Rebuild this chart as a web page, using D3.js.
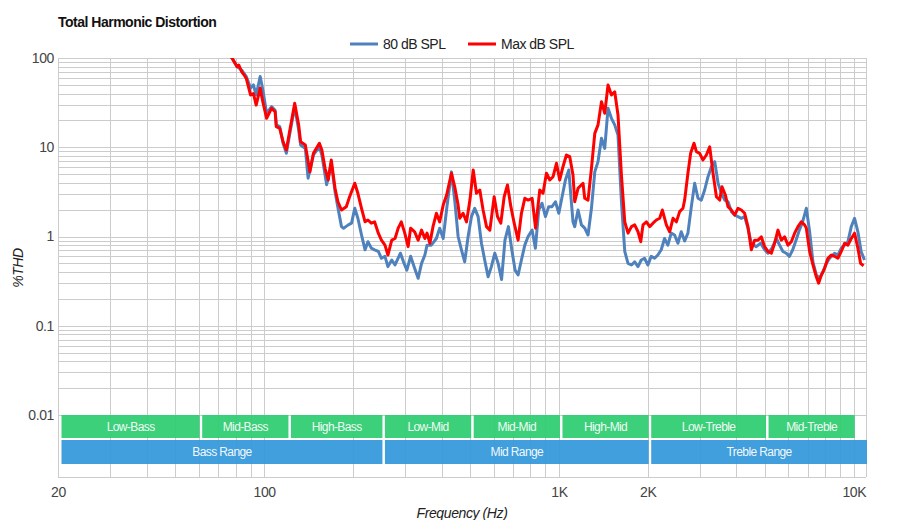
<!DOCTYPE html>
<html>
<head>
<meta charset="utf-8">
<script src="https://cdn.jsdelivr.net/npm/d3@7"></script>
<style>
	body { margin: 0; background: #fff; }
	svg { font-family: "Liberation Sans", Arial, sans-serif; }
</style>
</head>
<body>
<svg id="chart" width="900" height="520"></svg>
<script>
var seriesNames = ["80 dB SPL", "Max dB SPL"];

// [frequency Hz, %THD]
var spl80 = [[76,110],[78,99],[81,80],[84,73],[87,62],[90,46],[92,50],[94,38.5],[97,62],[99,44],[102,24],[106,28.5],[109,26],[110,17.8],[113,17],[116,11.1],[119,8.55],[122,13.7],[127,28.5],[131,15.6],[133,10.6],[138,9.7],[141,4.5],[147,8.2],[154,10.1],[157,8.2],[163,3.8],[169,6.6],[174,3.2],[178,2.1],[183,1.29],[186,1.24],[193,1.35],[198,1.41],[203,2.07],[208,1.6],[214,1.04],[220,0.71],[225,0.875],[231,0.74],[237,0.71],[244,0.68],[250,0.57],[257,0.6],[263,0.46],[271,0.545],[278,0.48],[290,0.65],[297,0.52],[305,0.42],[314,0.6],[324,0.44],[333,0.34],[342,0.5],[351,0.62],[357,0.8],[369,0.8],[384,0.95],[394,1.24],[405,0.95],[417,2.16],[432,5.3],[444,2.4],[455,1.0],[467,0.71],[479,0.52],[492,1.0],[505,1.67],[518,2.07],[532,1.67],[546,0.84],[560,0.545],[575,0.354],[590,0.46],[606,0.65],[622,0.5],[639,0.33],[656,0.91],[674,1.29],[692,0.71],[710,0.42],[727,0.37],[746,0.545],[766,0.8],[786,1.0],[811,1.18],[832,0.74],[854,1.98],[876,2.36],[900,1.67],[923,2.16],[947,2.16],[973,2.45],[999,1.82],[1025,2.79],[1052,4.3],[1080,5.56],[1116,1.46],[1131,1.29],[1161,1.98],[1192,1.35],[1223,1.24],[1255,1.04],[1289,2.07],[1323,5.3],[1357,6.9],[1394,12.6],[1430,9.7],[1467,27.3],[1507,21.1],[1546,17.8],[1586,13.7],[1629,2.45],[1672,0.68],[1715,0.5],[1762,0.48],[1807,0.52],[1854,0.46],[1902,0.545],[1951,0.57],[2003,0.48],[2056,0.6],[2111,0.57],[2165,0.62],[2223,0.71],[2281,0.95],[2341,0.8],[2403,1.09],[2467,1.04],[2532,0.84],[2599,1.13],[2669,0.89],[2738,1.09],[2812,2.16],[2886,3.95],[2962,2.68],[3040,2.56],[3120,3.32],[3203,4.68],[3289,6.05],[3376,6.9],[3465,3.95],[3556,3.05],[3650,2.56],[3746,2.45],[3845,1.9],[3944,1.74],[4047,1.67],[4156,1.6],[4264,1.67],[4375,1.24],[4493,0.84],[4669,0.77],[4832,0.84],[4984,0.71],[5114,0.65],[5279,0.74],[5462,0.95],[5602,0.8],[5748,0.68],[5898,0.65],[6050,0.6],[6208,0.71],[6370,0.91],[6535,1.18],[6705,1.46],[6903,2.07],[7083,1.13],[7268,0.52],[7463,0.37],[7658,0.34],[7858,0.4],[8070,0.5],[8280,0.57],[8608,0.65],[8833,0.62],[9070,0.74],[9307,0.8],[9550,0.875],[9806,1.29],[10060,1.6],[10325,1.13],[10590,0.68],[10870,0.545]];

var splMax = [[76,110],[78,99],[81,80],[82,83.5],[84,70],[86,63],[87,59],[90,38.5],[92,40],[94,29.7],[97,46],[99,32.4],[102,21.1],[106,27.3],[109,25],[110,17],[113,16.3],[116,11.5],[119,9.3],[122,14.9],[127,31.1],[131,17.8],[133,11.5],[138,10.6],[143,5.3],[147,8.55],[154,11.1],[157,9.3],[161,5.8],[165,4.3],[169,7.2],[174,3.47],[178,2.45],[183,1.98],[190,2.16],[195,2.79],[203,3.95],[208,3.05],[214,2.07],[220,1.46],[225,1.53],[231,1.41],[237,1.46],[244,1.09],[250,0.91],[257,0.8],[263,0.62],[271,0.91],[278,0.95],[285,1.24],[292,1.46],[300,1.09],[308,0.77],[314,1.24],[324,1.13],[333,0.91],[342,1.18],[351,0.95],[357,1.09],[365,0.84],[374,1.29],[384,1.82],[394,1.46],[405,2.25],[416,2.92],[432,5.11],[444,3.5],[455,2.25],[461,1.6],[473,1.82],[486,1.46],[499,2.56],[512,5.56],[525,3.05],[539,3.32],[553,1.98],[568,1.29],[583,1.18],[603,2.79],[619,1.67],[635,1.41],[652,2.79],[669,3.78],[687,2.16],[705,1.41],[727,0.91],[746,1.82],[766,2.68],[786,2.56],[811,2.68],[833,1.24],[861,3.32],[883,3.05],[907,5.11],[931,4.3],[955,4.68],[981,6.61],[1006,4.3],[1032,6.05],[1060,8.19],[1088,7.84],[1116,4.89],[1131,2.45],[1161,3.47],[1207,3.95],[1223,2.68],[1255,2.56],[1289,5.81],[1323,14.3],[1357,17.8],[1394,32.4],[1430,24],[1467,49.8],[1507,38.5],[1546,41.9],[1586,23],[1629,4.89],[1672,1.46],[1715,1.09],[1762,1.29],[1807,1.35],[1854,1.13],[1894,0.875],[1928,1.35],[1980,1.46],[2032,1.29],[2084,1.41],[2140,1.53],[2196,1.6],[2243,1.98],[2314,1.35],[2374,1.13],[2437,1.6],[2502,1.46],[2567,1.9],[2634,2.07],[2669,2.56],[2738,5.11],[2797,8.55],[2871,11.1],[2925,8.92],[3001,8.55],[3080,7.2],[3162,8.19],[3246,10.1],[3331,5.11],[3420,2.79],[3509,2.56],[3573,3.61],[3669,2.92],[3744,2.16],[3843,1.98],[3944,1.74],[4047,2.07],[4156,1.98],[4264,1.82],[4375,1.29],[4493,0.71],[4610,0.91],[4731,0.91],[4858,0.99],[4984,0.77],[5114,0.68],[5252,0.65],[5389,0.84],[5530,1.18],[5678,0.91],[5827,0.99],[5979,0.8],[6140,0.875],[6300,1.09],[6465,1.29],[6637,1.46],[6811,1.35],[6903,1.24],[7083,0.68],[7268,0.48],[7463,0.354],[7598,0.3],[7760,0.37],[7962,0.44],[8170,0.57],[8389,0.62],[8608,0.6],[8833,0.57],[9070,0.68],[9307,0.84],[9550,0.8],[9806,0.95],[10060,1.09],[10325,0.74],[10545,0.5],[10794,0.47]];

var xTickValues = [20, 100, 1000, 2000, 10000];
var xTickLabels = ["20", "100", "1K", "2K", "10K"];
var yTickValues = [0.01, 0.1, 1, 10, 100];
var yTickLabels = ["0.01", "0.1", "1", "10", "100"];

var subBandNames = ["Low-Bass", "Mid-Bass", "High-Bass", "Low-Mid", "Mid-Mid", "High-Mid", "Low-Treble", "Mid-Treble"];
var subBandEdges = [[20, 60], [60, 120], [120, 250], [250, 500], [500, 1000], [1000, 2000], [2000, 5000], [5000, 10000]];
var rangeNames = ["Bass Range", "Mid Range", "Treble Range"];
var rangeEdges = [[20, 250], [250, 2000], [2000, 11000]];

// dimensions
var plotLeft = 58,
	plotRight = 866,
	plotTop = 58,
	plotBottom = 477.4,
	gridColor = "#cccccc",
	textColor = "#444444",
	seriesColors = ["#4f81bd", "#ff0000"];

var x = d3.scaleLog().domain([20, 11000]).range([plotLeft, plotRight]);
var y = d3.scaleLog().domain([0.002, 100]).range([plotBottom, plotTop]);

var svg = d3.select("#chart");

// grid
var xGrid = [];
[10, 100, 1000].forEach(function (dec) {
	for (var m = 1; m < 10; m++) {
		var v = dec * m;
		if (v >= 20 && v <= 10000) xGrid.push(v);
	}
});
xGrid.push(10000, 11000);

var yGrid = [];
[0.01, 0.1, 1, 10].forEach(function (dec) {
	for (var m = 1; m < 10; m++) yGrid.push(dec * m);
});
yGrid.push(100);

var grid = svg.append("g")
	.attr("stroke", gridColor)
	.attr("stroke-width", 1)
	.attr("shape-rendering", "crispEdges");

grid.selectAll("line.v")
	.data(xGrid)
	.enter()
	.append("line")
	.attr("x1", function (d) { return Math.round(x(d)) + 0.5; })
	.attr("x2", function (d) { return Math.round(x(d)) + 0.5; })
	.attr("y1", plotTop)
	.attr("y2", plotBottom);

grid.selectAll("line.h")
	.data(yGrid)
	.enter()
	.append("line")
	.attr("x1", plotLeft)
	.attr("x2", plotRight)
	.attr("y1", function (d) { return Math.round(y(d)) + 0.5; })
	.attr("y2", function (d) { return Math.round(y(d)) + 0.5; });

grid.append("line")
	.attr("x1", plotLeft).attr("x2", plotRight)
	.attr("y1", Math.round(plotBottom) + 0.5).attr("y2", Math.round(plotBottom) + 0.5);

// frequency bands
function drawBands(names, edges, y0, h, color) {
	var g = svg.append("g");
	names.forEach(function (name, i) {
		var x0 = x(edges[i][0]) + 3.5,
			x1 = Math.min(x(edges[i][1]) + 1, plotRight + 2);
		g.append("rect")
			.attr("x", x0)
			.attr("y", y0)
			.attr("width", x1 - x0)
			.attr("height", h)
			.attr("fill", color)
			.attr("fill-opacity", 0.93);
		g.append("text")
			.text(name)
			.attr("x", (x0 + x1) / 2)
			.attr("y", y0 + h / 2)
			.attr("dy", "0.35em")
			.attr("text-anchor", "middle")
			.attr("fill", "#ffffff")
			.attr("fill-opacity", 0.95)
			.style("font-size", "12px")
			.style("letter-spacing", "-0.6px");
	});
}
drawBands(subBandNames, subBandEdges, 415, 23, "#2ecc71");
drawBands(rangeNames, rangeEdges, 440, 24, "#3498db");

// series lines
svg.append("clipPath")
	.attr("id", "plot-clip")
	.append("rect")
	.attr("x", plotLeft).attr("y", plotTop)
	.attr("width", plotRight - plotLeft).attr("height", plotBottom - plotTop);

var line = d3.line()
	.x(function (d) { return x(d[0]); })
	.y(function (d) { return y(d[1]); });

svg.append("g")
	.attr("clip-path", "url(#plot-clip)")
	.selectAll("path")
	.data([spl80, splMax])
	.enter()
	.append("path")
	.attr("d", line)
	.attr("fill", "none")
	.attr("stroke", function (d, i) { return seriesColors[i]; })
	.attr("stroke-width", 3)
	.attr("stroke-linejoin", "round");

// axes
var yAxis = svg.append("g")
	.attr("transform", translate(plotLeft, 0))
	.call(d3.axisLeft(y)
		.tickValues(yTickValues)
		.tickFormat(function (d, i) { return yTickLabels[i]; })
		.tickSize(0)
		.tickPadding(4));

var xAxis = svg.append("g")
	.attr("transform", translate(0, plotBottom))
	.call(d3.axisBottom(x)
		.tickValues(xTickValues)
		.tickFormat(function (d, i) { return xTickLabels[i]; })
		.tickSize(0)
		.tickPadding(10));

[yAxis, xAxis].forEach(function (a) {
	a.select(".domain").remove();
	a.selectAll("text")
		.attr("fill", textColor)
		.style("font-size", "14px")
		.style("font-family", "\"Liberation Sans\", Arial, sans-serif")
		.style("letter-spacing", "-0.4px");
});

// title
svg.append("text")
	.text("Total Harmonic Distortion")
	.attr("x", plotLeft)
	.attr("y", 27)
	.attr("fill", "#111111")
	.style("font-size", "14px")
	.style("font-weight", "bold")
	.style("letter-spacing", "-0.5px");

// axis titles
svg.append("text")
	.text("Frequency (Hz)")
	.attr("x", 462)
	.attr("y", 518)
	.attr("text-anchor", "middle")
	.attr("fill", "#222222")
	.style("font-size", "14px")
	.style("font-style", "italic")
	.style("letter-spacing", "-0.4px");

svg.append("text")
	.text("%THD")
	.attr("transform", translate(23, 268) + " rotate(-90)")
	.attr("text-anchor", "middle")
	.attr("fill", "#222222")
	.style("font-size", "14px")
	.style("font-style", "italic")
	.style("letter-spacing", "-0.4px");

// legend
var legendX = [350, 468];
var legend = svg.selectAll("g.legend")
	.data(seriesNames)
	.enter()
	.append("g")
	.attr("transform", function (d, i) { return translate(legendX[i], 44); });

legend.append("line")
	.attr("x1", 0).attr("x2", 28)
	.attr("y1", 0).attr("y2", 0)
	.attr("stroke", function (d, i) { return seriesColors[i]; })
	.attr("stroke-width", 3);

legend.append("text")
	.text(function (d) { return d; })
	.attr("x", 33)
	.attr("y", 0)
	.attr("dy", "0.35em")
	.attr("fill", "#222222")
	.style("font-size", "14px")
	.style("letter-spacing", "-0.5px");

function translate(tx, ty) {
	return "translate(" + tx + "," + ty + ")";
}
</script>
</body>
</html>
